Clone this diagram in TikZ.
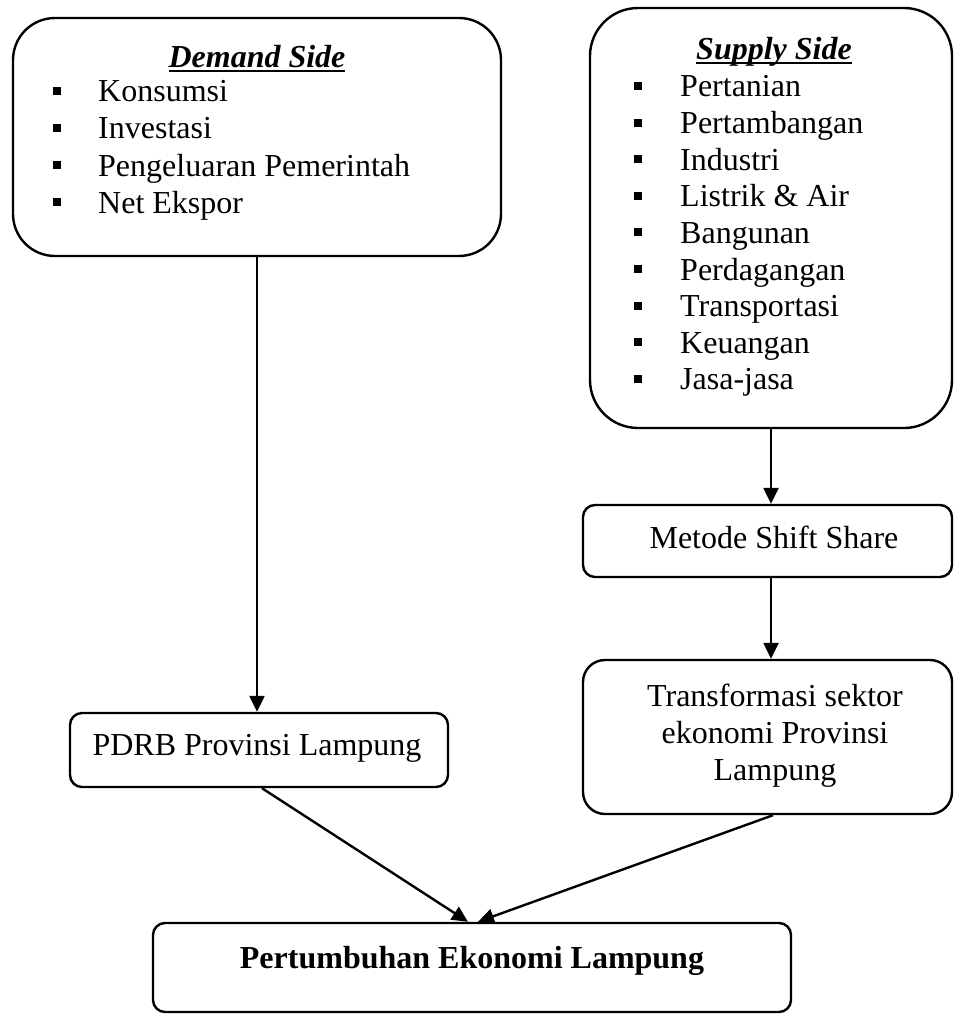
\documentclass[tikz,border=0pt]{standalone}
\usepackage{fontspec}
\setmainfont{Liberation Serif}
\usetikzlibrary{arrows.meta,calc}
\newcommand\ulin[1]{\setbox0\hbox{#1}\rlap{\rule[-4pt]{\wd0}{2pt}}\box0}
\begin{document}
\begin{tikzpicture}[x=1pt,y=-1pt,
  box/.style={draw,line width=2.4pt,inner sep=0pt,rectangle},
  txt/.style={inner sep=0pt,font=\fontsize{32}{38}\selectfont},
  bul/.style={fill,inner sep=0pt,minimum size=8pt,rectangle},
  arr/.style={line width=2.4pt,-{Triangle[length=16pt,width=15pt]}}
]
\useasboundingbox (0,0) rectangle (954,1014);
% boxes
\node[box,rounded corners=42pt,minimum width=488pt,minimum height=238pt] (demand) at (257,137) {};
\node[box,rounded corners=48pt,minimum width=362pt,minimum height=420pt] (supply) at (771,218) {};
\node[box,rounded corners=12pt,minimum width=369pt,minimum height=72pt] (metode) at (767.5,541) {};
\node[box,rounded corners=22pt,minimum width=369pt,minimum height=154pt] (trans) at (767.5,737) {};
\node[box,rounded corners=12pt,minimum width=378pt,minimum height=74pt] (pdrb) at (259,750) {};
\node[box,rounded corners=12pt,minimum width=638pt,minimum height=89pt] (final) at (472,967.5) {};
% demand text
\node[txt,anchor=base] (dtitle) at (257,68) {\bfseries\itshape\ulin{Demand Side}};
\foreach \t [count=\i] in {Konsumsi,Investasi,Pengeluaran Pemerintah,Net Ekspor}{
  \node[txt,anchor=base west] (d\i) at (98,{102+37*(\i-1)}) {\t};
  \node[bul] (db\i) at (57,{102+37*(\i-1)-11}) {};
}
% supply text
\node[txt,anchor=base] (stitle) at (774,60) {\bfseries\itshape\ulin{Supply Side}};
\foreach \t [count=\i] in {Pertanian,Pertambangan,Industri,Listrik \& Air,Bangunan,Perdagangan,Transportasi,Keuangan,Jasa-jasa}{
  \node[txt,anchor=base west] (s\i) at (680,{97+36.6*(\i-1)}) {\t};
  \node[bul] (sb\i) at (638,{97+36.6*(\i-1)-11}) {};
}
% other texts
\node[txt,anchor=base] (mtxt) at (774,548) {Metode Shift Share};
\node[txt,anchor=base] (t1) at (775,706) {Transformasi sektor};
\node[txt,anchor=base] (t2) at (775,743) {ekonomi Provinsi};
\node[txt,anchor=base] (t3) at (775,780) {Lampung};
\node[txt,anchor=base] (ptxt) at (257,755) {PDRB Provinsi Lampung};
\node[txt,anchor=base] (ftxt) at (472,968) {\bfseries Pertumbuhan Ekonomi Lampung};
% connectors
\draw[arr] (demand.south) -- (demand.south |- pdrb.north);
\draw[arr] (supply.south) -- (supply.south |- metode.north);
\draw[arr] (metode.south -| supply.south) -- (trans.north -| supply.south);
\draw[arr] ($(pdrb.south)+(3,0)$) -- ($(final.north)+(-4,0)$);
\draw[arr] ($(trans.south)+(5.5,0)$) -- ($(final.north)+(6,0)$);
\end{tikzpicture}
\end{document}
